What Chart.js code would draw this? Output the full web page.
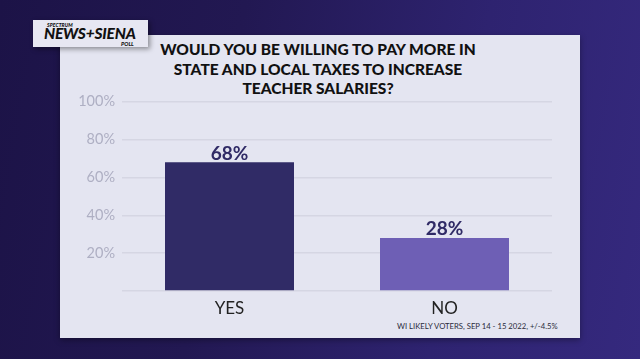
<!DOCTYPE html>
<html><head><meta charset="utf-8">
<script src="https://cdn.jsdelivr.net/npm/chart.js@4"></script>
<style>
html,body{margin:0;padding:0;width:640px;height:359px;overflow:hidden;}
body{background:linear-gradient(100deg,#1c1347 0%,#221852 35%,#2e2370 70%,#35297e 100%);position:relative;font-family:Lato,"Open Sans",sans-serif;}
#panel{position:absolute;left:60px;top:35px;width:520px;height:303px;background:#e4e5f1;box-shadow:0 2px 6px rgba(0,0,0,0.35);}
#logo{position:absolute;left:33px;top:20px;width:115px;height:27px;background:#e7e7f2;box-shadow:2px 2px 5px rgba(0,0,0,0.4);}
#logo .s{position:absolute;left:14px;top:2px;font:italic 900 5px Lato;color:#111;letter-spacing:0.1px;}
#logo .n{position:absolute;left:11px;top:5.5px;font:italic 900 15.5px Lato;color:#111;letter-spacing:-0.2px;line-height:15px;}
#logo .p{position:absolute;left:88px;top:20.5px;font:italic 900 5.5px Lato;color:#111;}
#title{position:absolute;left:59px;width:518px;top:40px;text-align:center;font:900 15.5px Lato;line-height:19.5px;color:#111;}
#foot{position:absolute;left:397px;top:320.5px;font:7.7px Lato;color:#2a2a3a;white-space:nowrap;}
#c{position:absolute;left:0;top:0;}
</style></head>
<body>
<div id="panel"></div>
<div id="logo"><div class="s">SPECTRUM</div><div class="n">NEWS+SIENA</div><div class="p">POLL</div></div>
<div id="title">WOULD YOU BE WILLING TO PAY MORE IN<br>STATE AND LOCAL TAXES TO INCREASE<br>TEACHER SALARIES?</div>
<div id="foot">WI LIKELY VOTERS, SEP 14 - 15 2022, +/-4.5%</div>
<canvas id="c" width="640" height="359"></canvas>
<script>
const categories = ["YES", "NO"];
const values = [68, 28];
const barColors = ["#302b66", "#6e5fb5"];
const tickValues = [20, 40, 60, 80, 100];

const valueLabels = {
  id: 'valueLabels',
  afterDatasetsDraw(chart) {
    const ctx = chart.ctx;
    const meta = chart.getDatasetMeta(0);
    ctx.save();
    ctx.font = 'bold 19px Lato';
    ctx.fillStyle = '#302b66';
    ctx.textAlign = 'center';
    ctx.textBaseline = 'alphabetic';
    meta.data.forEach((bar, i) => {
      ctx.fillText(values[i] + '%', bar.x, bar.y - 2.5);
    });
    ctx.restore();
  }
};

new Chart(document.getElementById('c'), {
  type: 'bar',
  data: {
    labels: categories,
    datasets: [{
      data: values,
      backgroundColor: barColors,
      categoryPercentage: 0.6,
      barPercentage: 1.0
    }]
  },
  options: {
    responsive: false,
    animation: false,
    layout: { padding: { left: 60, right: 88, top: 101.7, bottom: 38 } },
    plugins: { legend: { display: false }, tooltip: { enabled: false } },
    scales: {
      x: {
        grid: { display: false, drawTicks: false },
        border: { display: false },
        ticks: { color: '#222', font: { family: 'Lato', size: 17 }, padding: 7 },
        afterFit(s) { s.height = 30; }
      },
      y: {
        min: 0, max: 100,
        afterBuildTicks(s) { s.ticks = [0].concat(tickValues).map(v => ({ value: v })); },
        grid: { color: '#d5d6e3', lineWidth: 1.5, drawTicks: false },
        border: { display: false },
        ticks: {
          color: '#aeafc3', font: { family: 'Lato', size: 14.5 }, padding: 7,
          callback: v => v === 0 ? '' : v + '%'
        },
        afterFit(s) { s.width = 62; }
      }
    }
  },
  plugins: [valueLabels]
});
</script>
</body></html>
